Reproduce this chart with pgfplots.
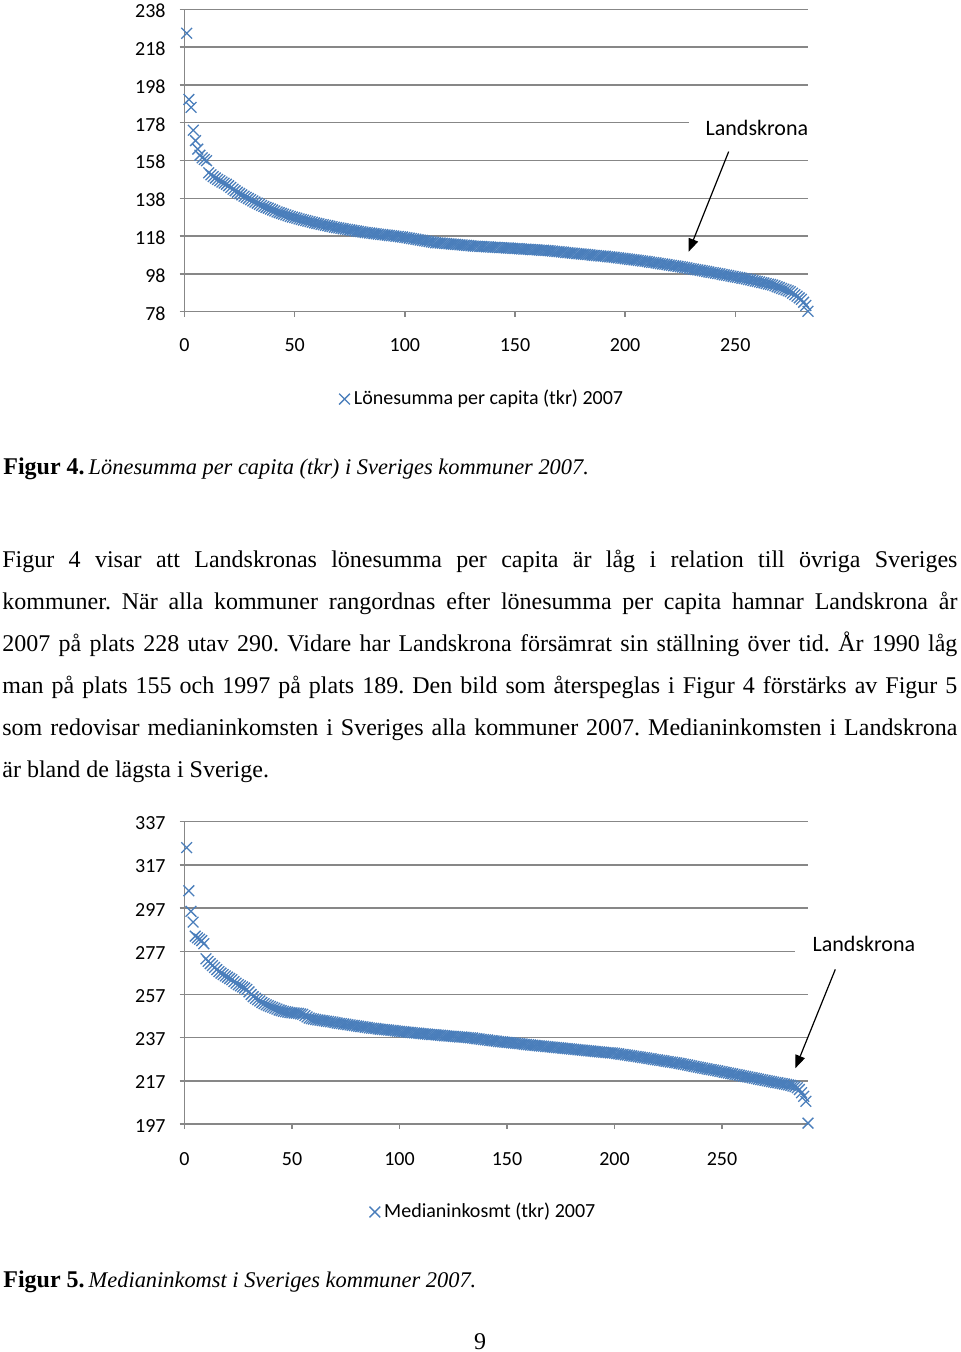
\documentclass[border=0pt]{standalone}
\usepackage{pgfplots}
\pgfplotsset{compat=1.18}
\usepackage{pgfplotstable}
\usepackage{fontspec}
\setmainfont{Liberation Serif}
\newfontfamily\calibri{Carlito}
\usetikzlibrary{arrows.meta}
\definecolor{xblue}{HTML}{4A7EBB}
\definecolor{ggray}{HTML}{878787}

% Lönesumma per capita (tkr) 2007, kommuner sorterade (rang 1..283)
\pgfplotstableread[row sep=\\]{
v\\
225.3\\ 190.3\\ 186.1\\ 174.0\\ 168.5\\ 164.0\\ 160.8\\ 159.4\\ 158.6\\ 157.9\\
151.5\\ 150.4\\ 149.5\\ 148.7\\ 148.0\\ 147.3\\ 146.6\\ 146.0\\ 145.4\\ 144.6\\
143.7\\ 142.8\\ 142.0\\ 141.2\\ 140.5\\ 139.8\\ 139.1\\ 138.5\\ 137.9\\ 137.3\\
136.6\\ 136.0\\ 135.4\\ 134.8\\ 134.2\\ 133.7\\ 133.2\\ 132.8\\ 132.3\\ 131.8\\
131.3\\ 130.8\\ 130.4\\ 130.0\\ 129.6\\ 129.2\\ 128.8\\ 128.4\\ 128.1\\ 127.8\\
127.5\\ 127.1\\ 126.8\\ 126.5\\ 126.2\\ 125.9\\ 125.6\\ 125.3\\ 125.0\\ 124.7\\
124.5\\ 124.2\\ 124.0\\ 123.7\\ 123.5\\ 123.2\\ 123.0\\ 122.7\\ 122.5\\ 122.3\\
122.1\\ 121.9\\ 121.7\\ 121.5\\ 121.3\\ 121.1\\ 120.9\\ 120.7\\ 120.5\\ 120.3\\ 120.1\\ 119.9\\ 119.8\\ 119.6\\
119.5\\ 119.3\\ 119.2\\ 119.0\\ 118.9\\ 118.8\\ 118.6\\ 118.5\\ 118.3\\ 118.2\\ 118.1\\ 117.9\\ 117.8\\ 117.6\\ 117.5\\
117.3\\ 117.1\\ 116.9\\ 116.7\\ 116.5\\ 116.3\\ 116.1\\ 115.9\\ 115.7\\ 115.5\\ 115.3\\ 115.1\\ 114.9\\ 114.7\\ 114.5\\
114.4\\ 114.3\\ 114.2\\ 114.1\\ 114.0\\ 113.9\\ 113.8\\ 113.7\\ 113.6\\ 113.5\\ 113.4\\ 113.3\\ 113.2\\ 113.1\\ 113.0\\ 112.8\\
112.7\\ 112.7\\ 112.6\\ 112.5\\ 112.5\\ 112.4\\ 112.3\\ 112.3\\ 112.2\\ 112.1\\ 112.1\\ 112.0\\ 111.9\\ 111.9\\ 111.8\\ 111.7\\ 111.7\\ 111.6\\ 111.5\\
111.4\\ 111.4\\ 111.3\\ 111.2\\ 111.1\\ 111.1\\ 111.0\\ 110.9\\ 110.8\\ 110.8\\ 110.7\\ 110.6\\ 110.5\\ 110.5\\ 110.4\\ 110.3\\
110.2\\ 110.1\\ 109.9\\ 109.8\\ 109.7\\ 109.6\\ 109.5\\ 109.3\\ 109.2\\ 109.1\\ 109.0\\ 108.9\\ 108.7\\ 108.6\\ 108.5\\
108.4\\ 108.3\\ 108.2\\ 108.1\\ 107.9\\ 107.8\\ 107.7\\ 107.6\\ 107.5\\ 107.4\\ 107.3\\ 107.1\\ 107.0\\ 106.9\\ 106.8\\
106.6\\ 106.5\\ 106.3\\ 106.2\\ 106.0\\ 105.9\\ 105.7\\ 105.6\\ 105.4\\ 105.3\\ 105.1\\ 105.0\\ 104.8\\ 104.7\\ 104.5\\
104.3\\ 104.1\\ 104.0\\ 103.8\\ 103.6\\ 103.4\\ 103.2\\ 103.1\\ 102.9\\ 102.7\\ 102.5\\ 102.3\\ 102.2\\ 102.0\\ 101.8\\
101.6\\ 101.4\\ 101.2\\ 100.9\\ 100.7\\ 100.5\\ 100.3\\ 100.1\\ 99.9\\ 99.7\\ 99.5\\ 99.3\\ 99.0\\ 98.8\\ 98.6\\
98.4\\ 98.2\\ 98.0\\ 97.7\\ 97.5\\ 97.3\\ 97.1\\ 96.8\\ 96.6\\ 96.4\\ 96.2\\ 96.0\\ 95.7\\ 95.5\\ 95.3\\
95.0\\ 94.8\\ 94.5\\ 94.2\\ 94.0\\ 93.7\\ 93.4\\ 93.2\\ 92.9\\ 92.6\\ 92.4\\ 92.1\\
91.7\\ 91.2\\ 90.8\\ 90.3\\ 89.9\\ 89.5\\ 89.0\\ 88.6\\
87.8\\ 87.0\\ 86.2\\ 85.3\\ 84.5\\
83.0\\ 81.3\\ 78.2\\
}\tabLon

% Medianinkomst (tkr) 2007, kommuner sorterade (rang 1..290)
\pgfplotstableread[row sep=\\]{
v\\
325.0\\ 305.0\\ 295.5\\ 290.5\\ 284.0\\ 283.2\\ 282.6\\ 281.9\\ 280.5\\ 273.5\\
272.3\\ 271.3\\ 270.4\\ 269.5\\ 268.5\\ 267.6\\ 266.9\\ 266.2\\ 265.6\\ 265.0\\
264.4\\ 263.8\\ 263.0\\ 262.2\\ 261.5\\ 261.0\\ 260.5\\ 260.0\\ 259.3\\ 258.2\\
257.0\\ 256.0\\ 255.2\\ 254.6\\ 254.0\\ 253.3\\ 252.7\\ 252.2\\ 251.8\\ 251.4\\
251.0\\ 250.6\\ 250.2\\ 249.8\\ 249.5\\ 249.2\\ 249.0\\ 248.8\\ 248.6\\ 248.5\\
248.4\\ 248.3\\ 248.2\\ 248.0\\ 247.8\\ 247.2\\ 246.6\\ 246.1\\ 245.8\\ 245.6\\
245.4\\ 245.2\\ 245.1\\ 244.9\\ 244.8\\ 244.6\\ 244.5\\ 244.3\\ 244.2\\ 244.0\\ 243.8\\
243.6\\ 243.5\\ 243.3\\ 243.2\\ 243.0\\ 242.9\\ 242.7\\ 242.6\\ 242.4\\ 242.3\\ 242.1\\ 242.0\\ 241.8\\ 241.7\\ 241.5\\
241.4\\ 241.3\\ 241.2\\ 241.0\\ 240.9\\ 240.8\\ 240.7\\ 240.6\\ 240.5\\ 240.4\\ 240.3\\ 240.2\\ 240.0\\ 239.9\\ 239.8\\
239.7\\ 239.6\\ 239.5\\ 239.4\\ 239.3\\ 239.2\\ 239.1\\ 239.0\\ 238.9\\ 238.8\\ 238.7\\ 238.6\\ 238.5\\ 238.4\\ 238.4\\ 238.3\\
238.2\\ 238.1\\ 238.0\\ 237.9\\ 237.8\\ 237.7\\ 237.7\\ 237.6\\ 237.5\\ 237.4\\ 237.3\\ 237.3\\ 237.2\\ 237.1\\ 237.0\\ 236.9\\
236.8\\ 236.6\\ 236.5\\ 236.4\\ 236.2\\ 236.1\\ 236.0\\ 235.9\\ 235.7\\ 235.6\\ 235.5\\ 235.4\\ 235.2\\ 235.1\\ 235.0\\ 234.9\\ 234.8\\ 234.7\\ 234.6\\ 234.5\\
234.4\\ 234.3\\ 234.2\\ 234.1\\ 233.9\\ 233.8\\ 233.7\\ 233.6\\ 233.5\\ 233.4\\ 233.3\\ 233.2\\ 233.1\\ 233.0\\ 232.9\\ 232.8\\
232.7\\ 232.6\\ 232.5\\ 232.4\\ 232.3\\ 232.2\\ 232.1\\ 232.0\\ 231.9\\ 231.8\\ 231.7\\ 231.6\\ 231.5\\ 231.4\\ 231.3\\
231.2\\ 231.1\\ 231.0\\ 230.9\\ 230.8\\ 230.7\\ 230.6\\ 230.5\\ 230.4\\ 230.3\\ 230.2\\ 230.1\\ 230.0\\ 229.9\\ 229.9\\ 229.8\\
229.6\\ 229.5\\ 229.3\\ 229.2\\ 229.0\\ 228.9\\ 228.7\\ 228.6\\ 228.4\\ 228.3\\ 228.1\\ 228.0\\ 227.8\\ 227.7\\ 227.5\\
227.3\\ 227.2\\ 227.0\\ 226.8\\ 226.7\\ 226.5\\ 226.4\\ 226.2\\ 226.0\\ 225.9\\ 225.7\\ 225.6\\ 225.4\\ 225.3\\ 225.1\\
224.9\\ 224.7\\ 224.5\\ 224.3\\ 224.1\\ 223.9\\ 223.7\\ 223.5\\ 223.3\\ 223.1\\ 222.9\\ 222.7\\ 222.5\\ 222.3\\ 222.2\\ 222.0\\
221.8\\ 221.6\\ 221.4\\ 221.2\\ 221.0\\ 220.8\\ 220.6\\ 220.4\\ 220.2\\ 220.0\\ 219.8\\ 219.6\\ 219.4\\ 219.2\\ 219.0\\
218.8\\ 218.6\\ 218.4\\ 218.2\\ 218.0\\ 217.8\\ 217.6\\ 217.4\\ 217.2\\ 217.0\\ 216.8\\ 216.6\\ 216.4\\ 216.2\\ 216.1\\ 215.9\\
215.7\\ 215.5\\ 215.3\\ 215.1\\ 214.9\\ 214.6\\ 214.3\\ 213.8\\ 213.0\\
211.5\\ 209.8\\ 207.5\\ 197.4\\
}\tabMed

\pgfplotsset{
  kchart/.style={
    scale only axis, width=311.75pt,
    axis lines=left, axis line style={-, draw=ggray, line width=0.75pt},
    tick align=outside, major tick length=2.5pt,
    tick style={draw=ggray, line width=0.75pt},
    ymajorgrids, grid style={draw=ggray, line width=0.75pt},
    xtick={0,50,...,250},
    /pgf/number format/assume math mode=true,
    tick label style={font=\calibri\fontsize{10}{12}\selectfont, text=black},
    yticklabel style={anchor=east, inner sep=0pt, xshift=-6.75pt, yshift=-0.8pt},
    xticklabel style={anchor=base, inner sep=0pt},
    clip=false,
    legend style={draw=none, fill=none, anchor=center,
      font=\calibri\fontsize{10}{12}\selectfont},
    legend image code/.code={\draw[mark repeat=1,##1] plot coordinates {(0pt,0pt)};},
  },
  kmarks/.style={only marks, mark=x, mark size=3.8pt, color=xblue,
    mark options={line width=0.65pt}},
}
\tikzset{
  klabel/.style={fill=white, anchor=base, inner ysep=3pt,
    font=\calibri\fontsize{11}{13}\selectfont},
  karrow/.style={-{Triangle[length=6.5pt,width=5pt]}, line width=0.6pt, black},
}

\begin{document}
\frenchspacing
\begin{tikzpicture}[x=0.5pt,y=0.5pt]
\path[use as bounding box] (0,0) rectangle (960,1352);

% ---------- Figur 4 ----------
\begin{axis}[kchart, at={(92.25pt,520.15pt)}, anchor=south west,
  height=151.2pt, xmin=0, xmax=283, ymin=78, ymax=238,
  ytick={78,98,...,238},
  xticklabel style={yshift=-17.2pt},
  legend style={at={(0.479,-0.289)}}]
\addplot[kmarks] table[x expr=\coordindex+1, y=v] {\tabLon};
\addlegendentry{Lönesumma per capita (tkr) 2007}
\node[klabel, inner xsep=8.5pt] at (axis cs:259.8,171) {Landskrona};
\draw[karrow] (axis cs:247,162.7) -- (axis cs:228.8,109.7);
\end{axis}

% ---------- Figur 5 ----------
\begin{axis}[kchart, at={(92.25pt,114pt)}, anchor=south west,
  height=151.15pt, xmin=0, xmax=290, ymin=197, ymax=337,
  ytick={197,217,...,337},
  xticklabel style={yshift=-18pt},
  legend style={at={(0.481,-0.291)}}]
\addplot[kmarks] table[x expr=\coordindex+1, y=v] {\tabMed};
\addlegendentry{Medianinkosmt (tkr) 2007}
\node[klabel, inner xsep=9pt] at (axis cs:316,276.8) {Landskrona};
\draw[karrow] (axis cs:302.7,268.6) -- (axis cs:284.1,222.8);
\end{axis}

% ---------- Text ----------
\begin{scope}[every node/.style={inner sep=0pt, anchor=base west,
    font=\fontsize{12}{14}\selectfont}]
\node at (3,877) {{\bfseries Figur 4.}\hspace{-1pt} {\itshape\fontsize{11.2}{13}\selectfont Lönesumma per capita (tkr) i Sveriges kommuner 2007.}};
\node at (2,784) {\hbox to 477.5pt{Figur 4 visar att Landskronas lönesumma per capita är låg i relation till övriga Sveriges}};
\node at (2,742) {\hbox to 477.5pt{kommuner. När alla kommuner rangordnas efter lönesumma per capita hamnar Landskrona år}};
\node at (2,700) {\hbox to 477.5pt{2007 på plats 228 utav 290. Vidare har Landskrona försämrat sin ställning över tid. År 1990 låg}};
\node at (2,658) {\hbox to 477.5pt{man på plats 155 och 1997 på plats 189. Den bild som återspeglas i Figur 4 förstärks av Figur 5}};
\node at (2,616) {\hbox to 477.5pt{som redovisar medianinkomsten i Sveriges alla kommuner 2007. Medianinkomsten i Landskrona}};
\node at (2,574) {är bland de lägsta i Sverige.};
\node at (3,64) {{\bfseries Figur 5.}\hspace{-1pt} {\itshape\fontsize{11.2}{13}\selectfont Medianinkomst i Sveriges kommuner 2007.}};
\node[anchor=base] at (480,3) {9};
\end{scope}
\end{tikzpicture}
\end{document}
